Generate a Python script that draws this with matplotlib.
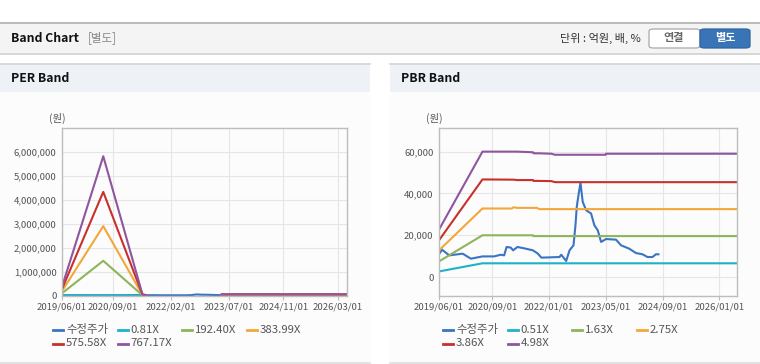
import numpy as np
import pandas as pd
import matplotlib
matplotlib.use("Agg")
import matplotlib.pyplot as plt
import matplotlib.dates as mdates
from matplotlib.patches import Rectangle, FancyBboxPatch
from matplotlib.lines import Line2D
from matplotlib.ticker import FuncFormatter

plt.rcParams['font.family'] = ['Noto Sans CJK KR', 'DejaVu Sans']

W, H = 760, 364
nan = np.nan

# adjusted share price (수정주가), shared by both charts
price_dates = ['2019-06-04', '2019-06-27', '2019-08-28', '2019-12-21', '2020-03-01',
               '2020-06-08', '2020-09-16', '2020-11-13', '2020-12-11', '2021-01-01',
               '2021-02-06', '2021-02-26', '2021-04-04', '2021-06-14', '2021-08-15',
               '2021-09-27', '2021-10-26', '2022-03-31', '2022-04-15', '2022-05-27',
               '2022-06-25', '2022-07-29', '2022-08-15', '2022-08-26', '2022-09-12',
               '2022-09-27', '2022-10-16', '2022-11-14', '2022-12-27', '2023-01-24',
               '2023-02-22', '2023-03-23', '2023-05-04', '2023-07-29', '2023-09-10',
               '2023-11-19', '2024-01-16', '2024-03-12', '2024-04-24', '2024-06-06',
               '2024-07-05', '2024-07-27']
price = [11200, 13100, 10400, 11200, 8800,
         9900, 9900, 10700, 10400, 14400,
         14100, 12800, 14400, 13600, 12800,
         11200, 9300, 9600, 10700, 7700,
         12800, 15200, 24800, 33600, 40000,
         45100, 36000, 32000, 30400, 24800,
         22400, 16800, 18200, 17900, 15200,
         13600, 11500, 10900, 9600, 9600,
         10900, 10900]

# PER band
per_labels = ['0.81X', '192.40X', '383.99X', '575.58X', '767.17X']
per_dates = ['2019-06-01', '2020-06-04', '2021-05-20', '2021-07-01', '2021-07-02',
             '2023-05-01', '2026-06-01']
per_bands = [
    [3000, 6100, 500, 0, nan, 60, 60],
    [92000, 1450000, 14000, 0, nan, 14000, 14000],
    [180000, 2900000, 28000, 0, nan, 28000, 28000],
    [270000, 4330000, 42000, 0, nan, 42000, 42000],
    [367000, 5820000, 56000, 0, nan, 56000, 56000],
]
per_xticks = ['2019/06/01', '2020/09/01', '2022/02/01', '2023/07/01', '2024/11/01', '2026/03/01']

# PBR band
pbr_labels = ['0.51X', '1.63X', '2.75X', '3.86X', '4.98X']
pbr_dates = ['2019-06-01', '2020-06-08', '2021-02-15', '2021-03-01', '2021-04-01',
             '2021-08-15', '2021-08-20', '2021-09-20', '2021-10-06', '2022-01-20',
             '2022-02-20', '2023-05-01', '2023-05-05', '2026-06-01']
pbr_bands = [
    [2700, 6600, 6600, 6600, 6600, 6600, 6600, 6600, 6600, 6600, 6600, 6600, 6600, 6600],
    [7500, 20000, 20000, 20000, 20000, 20000, 19600, 19600, 19600, 19600, 19600, 19600, 19600, 19600],
    [12800, 32800, 32800, 33400, 33100, 33100, 33100, 33100, 32500, 32500, 32500, 32500, 32500, 32500],
    [17600, 46700, 46600, 46600, 46400, 46400, 46000, 46000, 46000, 45900, 45400, 45400, 45400, 45400],
    [22700, 60000, 60000, 60000, 60000, 59700, 59200, 59200, 59200, 59000, 58500, 58500, 59000, 59000],
]
pbr_xticks = ['2019/06/01', '2020/09/01', '2022/01/01', '2023/05/01', '2024/09/01', '2026/01/01']

price_color = '#3a74c4'
band_colors = ['#1fb2c6', '#8db55a', '#f3a739', '#c8312b', '#8f559f']


def fx(x):
    return x / W


def fy(y):
    return 1 - y / H


fig = plt.figure(figsize=(W / 100, H / 100), dpi=100)
fig.patch.set_facecolor('white')


def rect(x0, y0, x1, y1, color, z=0):
    fig.add_artist(Rectangle((fx(x0), fy(y1)), fx(x1 - x0), (y1 - y0) / H,
                             transform=fig.transFigure, facecolor=color,
                             edgecolor='none', zorder=z))


def hline(x0, x1, y, color, lw=1.0, z=1):
    fig.add_artist(Line2D([fx(x0), fx(x1)], [fy(y), fy(y)], color=color, lw=lw,
                          transform=fig.transFigure, zorder=z))


# top header bar
rect(0, 23, W, 53, '#f4f4f4')
hline(0, W, 22.5, '#b5b5b5', 1.3)
hline(0, W, 53.5, '#cfcfcf', 1.2)
fig.text(fx(11), fy(38), 'Band Chart', fontsize=8.8, fontweight='bold', color='#111', va='center')
fig.text(fx(88), fy(38), '[별도]', fontsize=8.3, color='#888', va='center')
fig.text(fx(641), fy(38), '단위 : 억원, 배, %', fontsize=8, color='#333', va='center', ha='right')

# unit buttons
fig.add_artist(FancyBboxPatch((fx(649), fy(48)), fx(51), 19 / H, boxstyle='round,pad=0,rounding_size=0.006',
                              transform=fig.transFigure, facecolor='white', edgecolor='#aaaaaa', lw=0.9))
fig.add_artist(FancyBboxPatch((fx(700), fy(48)), fx(50), 19 / H, boxstyle='round,pad=0,rounding_size=0.006',
                              transform=fig.transFigure, facecolor='#3874b6', edgecolor='#2f65a3', lw=0.9))
fig.text(fx(674), fy(38), '연결', fontsize=8, fontweight='bold', color='#666', ha='center', va='center')
fig.text(fx(725), fy(38), '별도', fontsize=8, fontweight='bold', color='white', ha='center', va='center')

# panel backgrounds
for px0, px1, title in [(0, 370, 'PER Band'), (390, W, 'PBR Band')]:
    rect(px0, 92, px1, 362, '#fcfcfc')
    rect(px0, 64, px1, 92, '#eef2f7')
    hline(px0, px1, 64, '#d3d3d3', 1.2)
    hline(px0, px1, 362.5, '#dddddd', 1.2)
    fig.text(fx(px0 + 11), fy(79), title, fontsize=8.8, fontweight='bold', color='#111', va='center')


def setup_axes(ax, xticks, ylim, yticks, xlim):
    ax.set_facecolor('#fcfcfc')
    ax.set_xlim(pd.to_datetime(xlim[0]), pd.to_datetime(xlim[1]))
    ax.set_ylim(*ylim)
    ax.set_yticks(yticks)
    ax.yaxis.set_major_formatter(FuncFormatter(lambda v, p: f'{v:,.0f}'))
    ax.set_xticks(pd.to_datetime([t.replace('/', '-') for t in xticks]))
    ax.xaxis.set_major_formatter(mdates.DateFormatter('%Y/%m/%d'))
    ax.grid(True, color='#e6e6e6', lw=0.8)
    ax.set_axisbelow(True)
    for s in ax.spines.values():
        s.set_color('#bdbdbd')
        s.set_linewidth(1.0)
    ax.tick_params(axis='both', labelsize=6.9, colors='#555', length=3, width=0.8, pad=2)
    ax.tick_params(axis='both', color='#bdbdbd')
    ax.tick_params(axis='y', length=0, pad=4)


def draw_legend(x0, y0, labels, colors, step=64.7, row_h=13.5):
    for i, (lab, col) in enumerate(zip(labels, colors)):
        r, c = divmod(i, 4)
        x = x0 + c * step
        y = y0 + r * row_h
        fig.add_artist(Line2D([fx(x), fx(x + 10)], [fy(y), fy(y)], color=col, lw=2,
                              transform=fig.transFigure))
        fig.text(fx(x + 13), fy(y), lab, fontsize=8.2, color='#555', va='center')


# PER chart
ax1 = fig.add_axes([fx(62), fy(295.5), fx(285), 167.5 / H])
ax1.plot(pd.to_datetime(price_dates), price, color=price_color, lw=1.5)
for vals, col in zip(per_bands, band_colors):
    ax1.plot(pd.to_datetime(per_dates), vals, color=col, lw=1.5)
setup_axes(ax1, per_xticks, (0, 7000000), np.arange(0, 7000000, 1000000),
           ('2019-06-01', '2026-05-24'))
fig.text(fx(57), fy(118), '(원)', fontsize=7.5, color='#555', ha='center', va='center')
draw_legend(53, 330, ['수정주가'] + per_labels, [price_color] + band_colors)

# PBR chart
ax2 = fig.add_axes([fx(439), fy(295.5), fx(298), 167.5 / H])
ax2.plot(pd.to_datetime(price_dates), price, color=price_color, lw=1.5)
for vals, col in zip(pbr_bands, band_colors):
    ax2.plot(pd.to_datetime(pbr_dates), vals, color=col, lw=1.5)
setup_axes(ax2, pbr_xticks, (-8800, 71300), np.arange(0, 70000, 20000),
           ('2019-06-01', '2026-06-01'))
fig.text(fx(434), fy(118), '(원)', fontsize=7.5, color='#555', ha='center', va='center')
draw_legend(443, 330, ['수정주가'] + pbr_labels, [price_color] + band_colors)

fig.savefig('out.png', dpi=100)
